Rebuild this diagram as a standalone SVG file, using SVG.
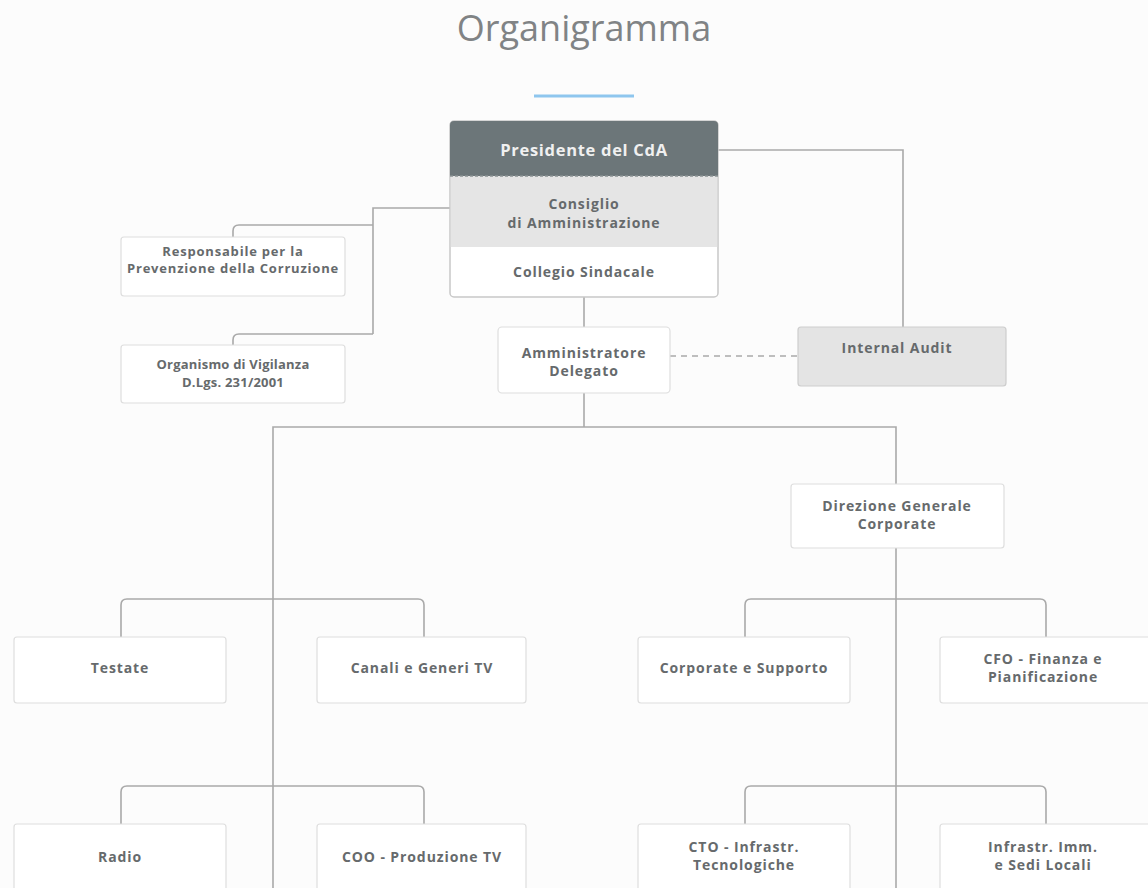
<svg xmlns="http://www.w3.org/2000/svg" width="1148" height="888" viewBox="0 0 1148 888">
<style>
.box{fill:#ffffff;stroke:#dedede;stroke-width:1.2}
.t{font-family:"Open Sans","Liberation Sans",sans-serif;font-weight:bold;font-size:14px;letter-spacing:0.9px;fill:#666a6c;text-anchor:middle}
.s{font-size:13px;letter-spacing:0.8px}
.xs{font-size:13px;letter-spacing:0.2px}
.ln{fill:none;stroke:#a9a9a9;stroke-width:1.6}
</style>
<rect width="1148" height="888" fill="#fcfcfc"/>
<text x="584" y="41" font-family="'Open Sans','Liberation Sans',sans-serif" font-size="36" fill="#808385" text-anchor="middle">Organigramma</text>
<line x1="534" y1="96" x2="634" y2="96" stroke="#8ec6ee" stroke-width="3"/>

<g id="connectors">
  <path class="ln" d="M718,150 H903 V327"/>
  <path class="ln" d="M584,297 V327"/>
  <path class="ln" d="M450,208 H373 V334"/>
  <path class="ln" d="M373,225 H239 Q233,225 233,231 V237"/>
  <path class="ln" d="M373,334 H239 Q233,334 233,340 V345"/>
  <path class="ln" d="M670,356 H798" stroke-dasharray="6,5"/>
  <path class="ln" d="M584,393 V427"/>
  <path class="ln" d="M273,888 V427 H896 V485"/>
  <path class="ln" d="M896,548 V888"/>
  <path class="ln" d="M121,637 V605 Q121,599 127,599 H418 Q424,599 424,605 V637"/>
  <path class="ln" d="M745,637 V605 Q745,599 751,599 H1040 Q1046,599 1046,605 V637"/>
  <path class="ln" d="M121,824 V792 Q121,786 127,786 H418 Q424,786 424,792 V824"/>
  <path class="ln" d="M745,824 V792 Q745,786 751,786 H1040 Q1046,786 1046,792 V824"/>
</g>

<g id="top">
  <rect x="450" y="121" width="268" height="176" rx="4" fill="#ffffff" stroke="#c8c8c8" stroke-width="1.5"/>
  <path d="M450,176 V125 Q450,121 454,121 H714 Q718,121 718,125 V176 Z" fill="#6c7679"/>
  <rect x="450.8" y="176" width="266.4" height="71" fill="#e5e5e5"/>
  <line x1="450" y1="176" x2="718" y2="176" stroke="#8a9294" stroke-width="1.5" stroke-dasharray="3,2"/>
  <text class="t" x="584" y="156" style="fill:#f0f0f0;font-size:16.5px;letter-spacing:0.7px">Presidente del CdA</text>
  <text class="t" x="584" y="209">Consiglio</text>
  <text class="t" x="584" y="228">di Amministrazione</text>
  <text class="t" x="584" y="277">Collegio Sindacale</text>
</g>

<g id="rpc">
  <rect class="box" x="121" y="237" width="224" height="59" rx="3"/>
  <text class="t s" x="233" y="256">Responsabile per la</text>
  <text class="t s" x="233" y="273">Prevenzione della Corruzione</text>
</g>

<g id="odv">
  <rect class="box" x="121" y="345" width="224" height="58" rx="3"/>
  <text class="t xs" x="233" y="369">Organismo di Vigilanza</text>
  <text class="t xs" x="233" y="387">D.Lgs. 231/2001</text>
</g>

<g id="ad">
  <rect class="box" x="498" y="327" width="172" height="66" rx="4"/>
  <text class="t" x="584" y="358">Amministratore</text>
  <text class="t" x="584" y="376">Delegato</text>
</g>

<g id="audit">
  <rect x="798" y="327" width="208" height="59" rx="3" fill="#e4e4e4" stroke="#cdcdcd" stroke-width="1.2"/>
  <text class="t" x="897" y="353">Internal Audit</text>
</g>

<g id="dgc">
  <rect class="box" x="791" y="484" width="213" height="64" rx="3"/>
  <text class="t" x="897" y="511">Direzione Generale</text>
  <text class="t" x="897" y="529">Corporate</text>
</g>

<g id="testate">
  <rect class="box" x="14" y="637" width="212" height="66" rx="3"/>
  <text class="t" x="120" y="673">Testate</text>
</g>
<g id="canali">
  <rect class="box" x="317" y="637" width="209" height="66" rx="3"/>
  <text class="t" x="422" y="673">Canali e Generi TV</text>
</g>
<g id="corporate">
  <rect class="box" x="638" y="637" width="212" height="66" rx="3"/>
  <text class="t" x="744" y="673">Corporate e Supporto</text>
</g>
<g id="cfo">
  <rect class="box" x="940" y="637" width="212" height="66" rx="3"/>
  <text class="t" x="1043" y="664">CFO - Finanza e</text>
  <text class="t" x="1043" y="682">Pianificazione</text>
</g>

<g id="radio">
  <rect class="box" x="14" y="824" width="212" height="70" rx="3"/>
  <text class="t" x="120" y="862">Radio</text>
</g>
<g id="coo">
  <rect class="box" x="317" y="824" width="209" height="70" rx="3"/>
  <text class="t" x="422" y="862">COO - Produzione TV</text>
</g>
<g id="cto">
  <rect class="box" x="638" y="824" width="212" height="70" rx="3"/>
  <text class="t" x="744" y="852">CTO - Infrastr.</text>
  <text class="t" x="744" y="870">Tecnologiche</text>
</g>
<g id="imm">
  <rect class="box" x="940" y="824" width="212" height="70" rx="3"/>
  <text class="t" x="1043" y="852">Infrastr. Imm.</text>
  <text class="t" x="1043" y="870">e Sedi Locali</text>
</g>
</svg>
